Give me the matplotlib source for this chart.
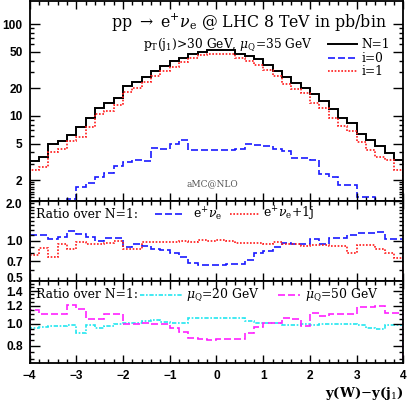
import numpy as np
import matplotlib
matplotlib.use("Agg")
import matplotlib.pyplot as plt
from matplotlib.ticker import FixedLocator, FixedFormatter, NullFormatter
from matplotlib.lines import Line2D
from matplotlib.transforms import ScaledTranslation

# ---------------- data ----------------
bin_edges = np.round(np.arange(-4.0, 4.0001, 0.2), 1)

n1_total = [3.22, 3.6, 5.0, 5.3, 6.2, 7.6, 9.5, 12.3, 13.7, 15.8,
            21.4, 23.3, 26.6, 30.8, 35.1, 39.2, 43.2, 47.0, 50.1, 51.7,
            51.9, 51.9, 47.7, 45.3, 41.7, 36.0, 31.0, 26.7, 23.0, 20.1,
            17.3, 14.6, 11.8, 9.4, 8.3, 6.4, 5.4, 4.7, 3.9, 3.3]

i0_part = [1.0, 1.05, 1.1, 1.15, 1.25, 1.67, 1.87, 2.15, 2.4, 2.82,
           3.14, 3.33, 3.22, 4.5, 4.4, 5.0, 5.4, 4.3, 4.3, 4.3,
           4.3, 4.3, 4.35, 5.0, 4.85, 4.66, 4.4, 4.2, 3.45, 3.45,
           3.3, 2.34, 2.15, 1.75, 1.75, 1.3, 1.3, 1.1, 1.05, 1.0]

i1_part = [2.55, 2.77, 4.0, 4.36, 5.3, 5.9, 7.6, 10.4, 11.3, 13.3,
           18.3, 20.0, 23.4, 27.4, 31.1, 34.4, 39.0, 42.5, 46.1, 47.0,
           47.0, 47.0, 42.5, 40.0, 35.9, 31.3, 27.4, 22.2, 19.5, 17.6,
           13.9, 12.1, 9.6, 7.8, 6.9, 5.2, 4.3, 3.6, 3.3, 2.6]

ratio_evE = [1.094, 1.094, 1.02, 1.06, 1.17, 1.12, 1.056, 0.986, 1.044, 1.044,
             0.898, 0.936, 0.909, 0.868, 0.848, 0.801, 0.751, 0.681, 0.651, 0.651,
             0.66, 0.666, 0.666, 0.714, 0.80, 0.834, 0.898, 0.963, 0.936, 0.936,
             1.03, 0.946, 1.044, 1.044, 1.10, 1.144, 1.144, 1.16, 1.03, 1.03]

ratio_ev1j = [0.78, 0.88, 0.75, 0.94, 0.87, 0.98, 0.95, 0.95, 0.96, 1.0,
              0.87, 0.87, 0.98, 0.98, 0.97, 0.98, 0.99, 0.97, 1.01, 1.0,
              1.01, 1.0, 0.963, 0.963, 0.963, 0.936, 0.98, 0.95, 0.95, 0.917,
              0.93, 0.93, 0.917, 0.917, 0.81, 0.93, 0.93, 0.86, 0.81, 0.735]

ratio_mu20 = [0.957, 0.97, 0.98, 0.98, 0.987, 0.91, 0.987, 0.963, 0.98, 0.997,
              1.013, 1.013, 1.03, 1.035, 1.02, 1.013, 1.013, 1.059, 1.059, 1.065,
              1.059, 1.059, 1.059, 1.024, 1.013, 1.013, 1.013, 0.987, 0.987, 1.003,
              0.987, 0.997, 0.997, 0.997, 0.997, 0.99, 0.963, 0.953, 0.987, 0.987]

ratio_mu50 = [1.149, 1.11, 1.11, 1.11, 1.209, 1.161, 1.055, 1.049, 1.11, 1.11,
              1.003, 1.003, 1.013, 0.997, 0.997, 0.963, 0.916, 0.87, 0.856, 0.85,
              0.856, 0.856, 0.856, 0.91, 0.97, 1.013, 1.013, 1.059, 1.049, 0.98,
              1.115, 1.077, 1.103, 1.103, 1.103, 1.18, 1.18, 1.2, 1.121, 1.121]

x_ticks = [-4, -3, -2, -1, 0, 1, 2, 3, 4]
x_tick_labels = ["\u22124", "\u22123", "\u22122", "\u22121", "0", "1", "2", "3", "4"]
top_ticks = [2, 5, 10, 20, 50, 100]
top_tick_labels = ["2", "5", "10", "20", "50", "100"]
mid_ticks = [0.5, 0.7, 1.0, 2.0]
mid_tick_labels = ["0.5", "0.7", "1.0", "2.0"]
bot_ticks = [0.8, 1.0, 1.2, 1.4]
bot_tick_labels = ["0.8", "1.0", "1.2", "1.4"]

# ---------------- styles ----------------
plt.rcParams["font.family"] = ["DejaVu Serif"]
plt.rcParams["mathtext.fontset"] = "dejavuserif"

W, H = 407, 404
fig = plt.figure(figsize=(W / 100, H / 100), dpi=100)

L, R = 29.6, 403.4
def box(top_px, bot_px):
    return [L / W, 1 - bot_px / H, (R - L) / W, (bot_px - top_px) / H]

ax1 = fig.add_axes(box(1.0, 200.5))
ax2 = fig.add_axes(box(200.5, 280.6))
ax3 = fig.add_axes(box(280.6, 363.3))

tick_font = dict(family="Liberation Sans", weight="bold", size=8.6)
BLUE = "#1a1aff"
RED = "#ff1a1a"
CYAN = "#22e6f0"
MAG = "#ff22ff"
LW = 1.2
dash_blue = (0, (4.2, 1.8))
dot_red = (0, (1.0, 1.0))
dashdot_cyan = (0, (2.6, 1.0, 1.0, 1.0))

for ax in (ax1, ax2, ax3):
    ax.set_xlim(-4, 4)
    ax.xaxis.set_major_locator(FixedLocator(x_ticks))
    ax.xaxis.set_minor_locator(FixedLocator(list(bin_edges)))
    ax.tick_params(axis="both", which="both", direction="in", top=True, right=True, width=1.0)
    ax.tick_params(axis="x", which="major", length=6)
    ax.tick_params(axis="x", which="minor", length=3)
    ax.tick_params(axis="y", which="major", length=7, pad=5)
    ax.tick_params(axis="y", which="minor", length=3.2)
    for s in ax.spines.values():
        s.set_linewidth(1.3)
    ax.set_yscale("log")
    ax.yaxis.set_minor_formatter(NullFormatter())

for ax in (ax1, ax2):
    ax.tick_params(axis="x", labelbottom=False)

# ---- top panel ----
ax1.stairs(n1_total, bin_edges, color="black", lw=1.4)
ax1.stairs(i0_part, bin_edges, color=BLUE, lw=LW, linestyle=dash_blue)
ax1.stairs(i1_part, bin_edges, color=RED, lw=LW, linestyle=dot_red)
ax1.set_ylim(1.2, 178)
ax1.yaxis.set_major_locator(FixedLocator(top_ticks))
ax1.yaxis.set_major_formatter(FixedFormatter(top_tick_labels))
minor_top = [v * d for d in (1, 10, 100) for v in (2, 3, 4, 5, 6, 7, 8, 9)]
minor_top = [v for v in minor_top if v not in top_ticks] + [1.3, 1.4, 1.5, 1.6, 1.7, 1.8, 1.9]
ax1.yaxis.set_minor_locator(FixedLocator(minor_top))

ax1.text(0.956, 0.893, r"pp $\rightarrow$ e$^{+}\nu_{\rm e}$ @ LHC 8 TeV in pb/bin",
         transform=ax1.transAxes, ha="right", va="center", fontsize=11.3)
ax1.text(0.758, 0.779, r"p$_{\rm T}$(j$_1$)>30 GeV, $\mu_{\rm Q}$=35 GeV",
         transform=ax1.transAxes, ha="right", va="center", fontsize=8.8)
leg_x0, leg_x1, leg_tx = 0.799, 0.877, 0.889
for yy, col, ls, lab, lw in ((0.784, "black", "-", "N=1", 1.4),
                             (0.713, BLUE, dash_blue, "i=0", LW),
                             (0.648, RED, dot_red, "i=1", LW)):
    ax1.add_line(Line2D([leg_x0, leg_x1], [yy, yy], transform=ax1.transAxes,
                        color=col, linestyle=ls, lw=lw))
    ax1.text(leg_tx, yy, lab, transform=ax1.transAxes, ha="left", va="center", fontsize=8.8)
ax1.text(0.489, 0.083, "aMC@NLO", transform=ax1.transAxes, ha="center", va="center",
         fontsize=6.5, color="#555555")

# ---- middle panel ----
ax2.stairs(ratio_evE, bin_edges, color=BLUE, lw=LW, linestyle=dash_blue)
ax2.stairs(ratio_ev1j, bin_edges, color=RED, lw=LW, linestyle=dot_red)
ax2.set_ylim(0.5, 2.0)
ax2.yaxis.set_major_locator(FixedLocator(mid_ticks))
ax2.yaxis.set_major_formatter(FixedFormatter(mid_tick_labels))
ax2.yaxis.set_minor_locator(FixedLocator([0.6, 0.8, 0.9, 1.1, 1.2, 1.3, 1.4, 1.5, 1.6, 1.7, 1.8, 1.9]))
ax2.text(0.017, 0.83, "Ratio over N=1:", transform=ax2.transAxes, ha="left", va="center", fontsize=8.9)
ax2.add_line(Line2D([0.336, 0.416], [0.83, 0.83], transform=ax2.transAxes,
                    color=BLUE, linestyle=dash_blue, lw=LW))
ax2.text(0.437, 0.83, r"e$^{+}\nu_{\rm e}$", transform=ax2.transAxes, ha="left", va="center", fontsize=8.9)
ax2.add_line(Line2D([0.536, 0.617], [0.83, 0.83], transform=ax2.transAxes,
                    color=RED, linestyle=dot_red, lw=LW))
ax2.text(0.624, 0.83, r"e$^{+}\nu_{\rm e}$+1j", transform=ax2.transAxes, ha="left", va="center", fontsize=8.9)

# ---- bottom panel ----
ax3.stairs(ratio_mu20, bin_edges, color=CYAN, lw=LW, linestyle=dashdot_cyan)
ax3.stairs(ratio_mu50, bin_edges, color=MAG, lw=LW, linestyle=dash_blue)
ax3.set_ylim(0.67, 1.55)
ax3.yaxis.set_major_locator(FixedLocator(bot_ticks))
ax3.yaxis.set_major_formatter(FixedFormatter(bot_tick_labels))
ax3.yaxis.set_minor_locator(FixedLocator([0.7, 0.75, 0.85, 0.9, 0.95, 1.05, 1.1, 1.15, 1.25, 1.3, 1.35, 1.45, 1.5]))
ax3.xaxis.set_major_formatter(FixedFormatter(x_tick_labels))
ax3.tick_params(axis="x", which="major", pad=5)
ax3.text(0.017, 0.827, "Ratio over N=1:", transform=ax3.transAxes, ha="left", va="center", fontsize=8.9)
ax3.add_line(Line2D([0.295, 0.411], [0.827, 0.827], transform=ax3.transAxes,
                    color=CYAN, linestyle=dashdot_cyan, lw=LW))
ax3.text(0.418, 0.827, r"$\mu_{\rm Q}$=20 GeV", transform=ax3.transAxes, ha="left", va="center", fontsize=8.9)
ax3.add_line(Line2D([0.665, 0.723], [0.827, 0.827], transform=ax3.transAxes,
                    color=MAG, linestyle=dash_blue, lw=LW))
ax3.text(0.737, 0.827, r"$\mu_{\rm Q}$=50 GeV", transform=ax3.transAxes, ha="left", va="center", fontsize=8.9)

for ax in (ax1, ax2, ax3):
    for lab in ax.get_xticklabels() + ax.get_yticklabels():
        lab.set_fontfamily(tick_font["family"])
        lab.set_fontweight(tick_font["weight"])
        lab.set_fontsize(tick_font["size"])

# nudge edge labels of the ratio panels so that neighbouring labels do not collide
def nudge(axis, index, dy_px):
    lab = axis.get_major_ticks()[index].label1
    lab.set_transform(lab.get_transform() + ScaledTranslation(0, dy_px / 100, fig.dpi_scale_trans))

nudge(ax2.yaxis, 0, 3.0)    # 0.5 up
nudge(ax2.yaxis, 3, -2.5)   # 2.0 down
nudge(ax3.yaxis, 3, -1.0)   # 1.4 down

fig.text(R / W, 1 - 393.5 / H, r"y(W)$-$y(j$_1$)", ha="right", va="center",
         fontsize=9.5, fontweight="bold")

fig.savefig("out.png", dpi=100)
